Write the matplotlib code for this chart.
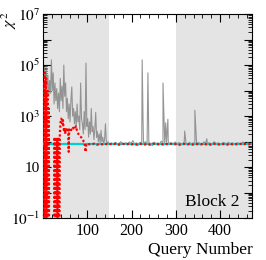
import numpy as np
import matplotlib
matplotlib.use("Agg")
import matplotlib.pyplot as plt
from matplotlib.ticker import LogLocator, FuncFormatter, MultipleLocator, NullFormatter

plt.rcParams['font.family'] = ['Liberation Serif', 'DejaVu Serif']
plt.rcParams['mathtext.fontset'] = 'stix'

# ---- data ----
# grey chi2 curve, early block (queries 1..149 step 2)
grey_early_x = list(range(1, 150, 2))
grey_early_y = [3e4, 8e4, 2e4, 9e4, 1.5e4, 4e4, 6e3, 2.5e4, 8e3, 1.6e5,
                1e4, 5e4, 3e3, 2e4, 4e3, 1.2e4, 2e3, 8e3, 1.5e3, 3e4,
                4e3, 1.5e4, 2e3, 1e5, 6e3, 2e4, 1.5e3, 5e3, 800, 3e3,
                600, 4e3, 1.4e4, 1e3, 2e3, 500, 1.5e3, 400, 3e3, 600,
                1e3, 300, 2e4, 800, 500, 200, 1.5e3, 300, 1.2e5, 400,
                800, 150, 600, 200, 2e3, 250, 400, 120, 300, 1.4e3,
                150, 250, 100, 200, 90, 280, 100, 150, 80, 120,
                500, 110, 85, 100, 80]
# grey chi2 curve, later queries (151..471 step 4)
grey_late_x = list(range(151, 474, 4))
grey_late_y = [82, 90, 75, 95, 85, 78, 100, 88, 80, 92,
               76, 98, 85, 110, 80, 90, 72, 95, 88, 84,
               100, 78, 92, 86, 70, 96, 84, 90, 80, 105,
               88, 76, 94, 82, 90, 78, 86, 98, 80, 92,
               84, 75, 100, 88, 82, 95, 78, 90, 86, 80,
               94, 84, 76, 98, 88, 82, 92, 78, 86, 100,
               80, 90, 84, 76, 94, 88, 82, 96, 78, 90,
               86, 80, 92, 84, 75, 98, 88, 82, 90, 80, 86]
# isolated spikes
spike_x = [224, 226, 237, 271, 277, 282, 320, 343, 370]
spike_y = [1.6e5, 600, 5e4, 2e4, 550, 760, 260, 1700, 130]

# red dotted curve
red_x = list(range(1, 61)) + list(range(62, 101, 2)) + list(range(104, 474, 6))
red_y = ([2e4, 1e-3, 1e-3, 5e4, 1e-3, 1e-3, 3e4, 1e-3, 1e-3, 1e4, 1e-3, 1e-3, 2e3, 1e-3,
          1e-3, 1e-3, 1e-3, 1e-3, 1e-3, 1e-3, 1e-3, 1e-3, 1e-3, 1e-3, 1e-3,
          150, 1e-3, 1e-3, 120, 1e-3, 1e-3, 130, 1e-3, 1e-3, 150, 1e-3, 1e-3, 200,
          400, 700, 800, 750, 600, 500, 700, 400, 300, 250, 350, 200,
          300, 280, 300, 250, 280, 350, 300, 40, 300, 250]
         + [250, 300, 280, 350, 320, 300, 400, 300, 250, 200,
            180, 160, 150, 140, 120, 100, 90, 40, 80, 75]
         + [80, 78, 84, 76, 82, 79, 85, 77, 81, 80,
            83, 76, 80, 82, 78, 84, 79, 81, 77, 83,
            80, 78, 82, 76, 84, 80, 79, 83, 77, 81,
            80, 84, 78, 82, 76, 80, 83, 79, 81, 77,
            82, 80, 78, 84, 79, 81, 76, 83, 80, 78,
            82, 80, 77, 84, 79, 81, 78, 83, 80, 82, 79, 81])

expected_chi2 = 80
shade_ranges = [(0, 150), (300, 473)]
x_limits = (0, 473)
y_limits = (0.1, 1e7)
label_text = "Block 2"

# ---- figure ----
fig = plt.figure(figsize=(2.66, 2.60), dpi=100)
ax = fig.add_axes([0.1617, 0.1604, 0.7873, 0.7856])

for a, b in shade_ranges:
    ax.axvspan(a, b, color='#e4e4e4', lw=0, zorder=0)

gx = np.array(grey_early_x + grey_late_x + spike_x)
gy = np.array(grey_early_y + grey_late_y + spike_y)
order = np.argsort(gx, kind='stable')
ax.plot(gx[order], gy[order], color='#8a8a8a', lw=0.8, alpha=0.9, zorder=2)

ax.axhline(expected_chi2, color='#00d0d0', lw=1.6, zorder=3)
ax.plot(red_x, red_y, color='red', lw=1.6, ls=(0, (1, 1)), zorder=4)

ax.set_yscale('log')
ax.set_xlim(*x_limits)
ax.set_ylim(*y_limits)

ax.xaxis.set_major_locator(MultipleLocator(100))
ax.xaxis.set_minor_locator(MultipleLocator(20))
ax.xaxis.set_major_formatter(FuncFormatter(lambda v, p: '' if v == 0 else '%d' % v))
ax.yaxis.set_major_locator(LogLocator(base=10, numticks=20))
ax.yaxis.set_minor_locator(LogLocator(base=10, subs=np.arange(2, 10), numticks=100))
ax.yaxis.set_minor_formatter(NullFormatter())

def yfmt(v, pos):
    e = int(round(np.log10(v)))
    if e % 2 == 0:
        return ''
    if e == 1:
        return '10'
    return r'$10^{%d}$' % e
ax.yaxis.set_major_formatter(FuncFormatter(yfmt))

ax.tick_params(which='both', direction='in', top=True, right=True, labelsize=11.5)
ax.tick_params(which='major', length=6, width=0.8)
ax.tick_params(which='minor', length=3, width=0.6)
ax.tick_params(axis='y', pad=2, labelsize=11)

ax.set_xlabel('Query Number', fontsize=12.5, loc='right', labelpad=2)
fig.text(9 / 266, 1 - 20 / 260, r'$\chi^2$', rotation=90, ha='center', va='center', fontsize=11.5)

ax.text(0.94, 0.04, label_text, transform=ax.transAxes, ha='right', va='bottom', fontsize=12.5)

fig.savefig('out.png', dpi=100)
